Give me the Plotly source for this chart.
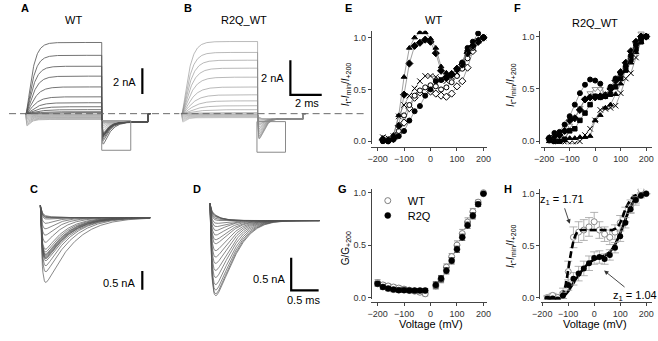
import numpy as np
import plotly.graph_objects as go

W, H = 658, 341
FONT = "Liberation Sans, Arial, Helvetica, sans-serif"

# ======================= data =======================
# current families (A/B), pulses from -200 to +200 mV in 20 mV steps
V_FAM = list(range(-200, 201, 20))
A_STEADY = [-0.45, -0.40, -0.35, -0.30, -0.25, -0.20, -0.15, -0.10, -0.06, -0.03,
            0.08, 0.15, 0.31, 0.54, 0.85, 1.31, 2.08, 2.92, 3.69, 4.54, 5.54]
A_ONSET = [-1.23, -1.10, -0.95, -0.80, -0.65, -0.50, -0.38, -0.27, -0.17, -0.10] + [0.0] * 11
A_TAU = [0.25] * 10 + [0.60, 0.60, 0.55, 0.50, 0.45, 0.42, 0.40, 0.37, 0.34, 0.32, 0.30]
B_STEADY = [-0.23, -0.20, -0.17, -0.14, -0.11, -0.08, -0.06, -0.04, -0.02, -0.01,
            0.06, 0.23, 0.46, 0.74, 1.09, 1.54, 2.11, 2.63, 3.09, 3.54, 4.17]
B_ONSET = [-0.63, -0.55, -0.47, -0.40, -0.33, -0.26, -0.20, -0.14, -0.08, -0.04] + [0.0] * 11
B_TAU = [0.25] * 10 + [0.70, 0.65, 0.60, 0.55, 0.50, 0.47, 0.44, 0.41, 0.38, 0.35, 0.33]
# tail currents (C = WT tails, D = R2Q_WT tails), peak (nA) and decay (ms)
C_PEAK = [-0.26, -0.29, -0.32, -0.34, -0.39, -0.55, -0.74, -0.95, -1.18, -1.39, -1.47,
          -1.53, -1.55, -1.58, -1.61, -1.63, -1.66, -1.71, -1.87, -2.05, -2.37]
C_TAU = [0.20, 0.20, 0.20, 0.22, 0.25, 0.28, 0.30, 0.33, 0.36, 0.40, 0.42,
         0.44, 0.45, 0.46, 0.47, 0.48, 0.48, 0.50, 0.50, 0.52, 0.55]
C_SS = -0.32
D_PEAK = [-0.15, -0.17, -0.18, -0.20, -0.23, -0.26, -0.32, -0.38, -0.45, -0.53, -0.61,
          -0.68, -0.80, -0.91, -1.02, -1.14, -1.26, -1.38, -1.47, -1.53, -1.56]
D_TAU = [0.20, 0.22, 0.24, 0.26, 0.28, 0.30, 0.32, 0.34, 0.36, 0.38, 0.40,
         0.41, 0.42, 0.43, 0.44, 0.45, 0.46, 0.47, 0.48, 0.49, 0.50]
D_SS = -0.26
PULSE_MS = 4.85
TAIL_END_A = 7.8
TAIL_END_B = 7.75
A_TAIL0 = -0.33
B_TAIL0 = -0.05
BASELINE_NA = 0.0

# E / F : normalised tail currents of single cells
V_EF = list(range(-180, 201, 20))
E_TRI = [0.03, 0.02, 0.06, 0.25, 0.62, 0.90, 1.00, 1.05, 1.05, 0.99, 0.90, 0.72, 0.66, 0.66, 0.70, 0.76, 0.88, 0.93, 0.98, 1.00]
E_DIAM = [0.02, 0.01, 0.03, 0.15, 0.45, 0.75, 0.92, 0.95, 0.98, 0.96, 0.85, 0.68, 0.62, 0.64, 0.70, 0.74, 0.85, 0.92, 0.96, 1.00]
E_X = [0.04, 0.03, 0.05, 0.24, 0.35, 0.44, 0.51, 0.58, 0.63, 0.63, 0.62, 0.60, 0.58, 0.62, 0.66, 0.74, 0.85, 0.90, 0.97, 1.00]
E_CIRC = [0.00, 0.00, 0.02, 0.05, 0.10, 0.20, 0.29, 0.34, 0.44, 0.50, 0.58, 0.59, 0.61, 0.65, 0.69, 0.76, 0.90, 0.96, 1.04, 1.00]
E_CIRC_O = [0.02, 0.01, 0.03, 0.10, 0.25, 0.35, 0.44, 0.49, 0.52, 0.54, 0.53, 0.50, 0.52, 0.57, 0.63, 0.70, 0.80, 0.90, 0.97, 1.00]
E_DIAM_O = [0.01, 0.00, 0.02, 0.08, 0.18, 0.32, 0.42, 0.47, 0.48, 0.48, 0.46, 0.44, 0.43, 0.46, 0.53, 0.58, 0.71, 0.87, 0.96, 1.00]

F_CIRC = [0.02, 0.08, 0.09, 0.16, 0.24, 0.35, 0.46, 0.54, 0.59, 0.58, 0.55, 0.43, 0.52, 0.60, 0.65, 0.72, 0.82, 0.92, 0.98, 1.00]
F_DIAM = [0.03, 0.05, 0.06, 0.10, 0.20, 0.22, 0.30, 0.40, 0.42, 0.42, 0.43, 0.44, 0.50, 0.58, 0.66, 0.75, 0.86, 0.95, 1.00, 1.00]
F_TRI_O = [0.00, 0.00, 0.02, 0.06, 0.15, 0.22, 0.32, 0.40, 0.46, 0.50, 0.50, 0.45, 0.50, 0.57, 0.62, 0.70, 0.80, 0.92, 1.03, 1.00]
F_TRI = [0.00, 0.00, 0.00, 0.01, 0.03, 0.03, 0.04, 0.04, 0.05, 0.20, 0.25, 0.32, 0.35, 0.45, 0.55, 0.68, 0.75, 0.85, 0.95, 1.00]
F_X = [0.01, -0.02, 0.00, -0.01, -0.02, -0.02, 0.00, 0.06, 0.12, 0.20, 0.30, 0.31, 0.32, 0.34, 0.46, 0.60, 0.65, 0.80, 0.96, 1.00]
F_SQ = [0.03, 0.00, 0.00, 0.02, 0.10, 0.12, 0.20, 0.27, 0.35, 0.43, 0.42, 0.43, 0.45, 0.52, 0.60, 0.68, 0.78, 0.88, 0.95, 1.00]

# G : normalised conductance
V_G = [-200, -180, -160, -140, -120, -100, -80, -60, -40, -20, 20, 40, 60, 80, 100, 120, 140, 160, 180, 200]
G_WT = [0.14, 0.12, 0.11, 0.10, 0.09, 0.08, 0.07, 0.06, 0.05, 0.035, 0.11, 0.17, 0.29, 0.39, 0.50, 0.61, 0.72, 0.82, 0.91, 1.00]
G_WT_ERR = [0.03, 0.02, 0.02, 0.02, 0.02, 0.02, 0.02, 0.02, 0.02, 0.02, 0.03, 0.03, 0.03, 0.03, 0.04, 0.04, 0.04, 0.03, 0.02, 0.0]
G_R2Q = [0.13, 0.10, 0.085, 0.075, 0.07, 0.07, 0.066, 0.066, 0.066, 0.066, 0.12, 0.18, 0.255, 0.35, 0.46, 0.575, 0.69, 0.78, 0.89, 0.99]
G_R2Q_ERR = [0.02, 0.02, 0.02, 0.02, 0.02, 0.02, 0.02, 0.02, 0.02, 0.02, 0.03, 0.03, 0.03, 0.03, 0.03, 0.03, 0.03, 0.03, 0.02, 0.0]

# H : averaged normalised tail currents and fits
V_H = list(range(-180, 201, 20))
H_WT = [0.00, 0.02, 0.00, 0.04, 0.25, 0.58, 0.63, 0.65, 0.68, 0.73, 0.65, 0.61, 0.58, 0.63, 0.72, 0.80, 0.88, 0.94, 1.04, 1.00]
H_WT_ERR = [0.02, 0.02, 0.03, 0.05, 0.10, 0.10, 0.10, 0.10, 0.09, 0.09, 0.08, 0.07, 0.07, 0.07, 0.07, 0.07, 0.06, 0.05, 0.03, 0.0]
H_R2Q = [-0.01, -0.01, -0.02, 0.02, 0.12, 0.18, 0.23, 0.28, 0.33, 0.38, 0.39, 0.37, 0.41, 0.48, 0.59, 0.72, 0.85, 0.94, 0.98, 1.00]
H_R2Q_ERR = [0.02, 0.02, 0.02, 0.03, 0.05, 0.06, 0.07, 0.07, 0.07, 0.06, 0.06, 0.05, 0.05, 0.05, 0.05, 0.05, 0.04, 0.03, 0.02, 0.0]
V_FIT_WT = list(range(-130, 201, 10))
FIT_WT = [0.01, 0.04, 0.12, 0.27, 0.42, 0.54, 0.61, 0.64, 0.65, 0.65, 0.65, 0.65, 0.65, 0.65, 0.65, 0.65,
          0.65, 0.65, 0.65, 0.65, 0.65, 0.66, 0.68, 0.72, 0.78, 0.85, 0.90, 0.94, 0.97, 0.985, 0.995, 1.0, 1.0, 1.0]
V_FIT_R2Q = list(range(-180, 201, 10))
FIT_R2Q = [-0.01, -0.01, -0.01, -0.01, -0.01, -0.005, 0.01, 0.03, 0.06, 0.10, 0.14, 0.18, 0.21, 0.25, 0.28,
           0.31, 0.33, 0.35, 0.365, 0.375, 0.385, 0.395, 0.405, 0.42, 0.44, 0.47, 0.51, 0.56, 0.62, 0.68,
           0.75, 0.82, 0.87, 0.92, 0.95, 0.97, 0.985, 0.995, 1.0]

# ======================= helpers =======================
def dom_x(p0, p1):
    return [p0 / W, p1 / W]


def dom_y(top, bot):
    return [1 - bot / H, 1 - top / H]


fig = go.Figure()
AX = dict(A='', B='2', C='3', D='4', E='5', F='6', G='7', H='8')


def xa(p):
    return 'x' + AX[p]


def ya(p):
    return 'y' + AX[p]


def line(p, x, y, color, width, dash=None):
    fig.add_trace(go.Scatter(x=x, y=y, mode='lines', xaxis=xa(p), yaxis=ya(p),
                             line=dict(color=color, width=width, dash=dash),
                             showlegend=False, hoverinfo='skip'))


def pulse_wave(t, ss, onset, tau):
    if ss >= 0:
        return ss * (1 - np.exp(-t / tau)) ** 2
    return (1 - np.exp(-t / 0.03)) * (ss + (onset - ss) * np.exp(-t / tau))


def tail_wave(t, peak, ss, tau, p):
    return (1 - np.exp(-t / 0.03)) * (ss + (peak - ss) * np.exp(-(t / tau) ** p))


t_pulse = np.linspace(0, PULSE_MS, 250)

# ---------- A and B families ----------
for p, st, on, ta, pk, tt, ss, t0, tend, pcol, ncol, pw, pexp in [
        ('A', A_STEADY, A_ONSET, A_TAU, C_PEAK, C_TAU, C_SS, A_TAIL0, TAIL_END_A, '#505050', '#a8a8a8', 0.8, 1.2),
        ('B', B_STEADY, B_ONSET, B_TAU, D_PEAK, D_TAU, D_SS, B_TAIL0, TAIL_END_B, '#8a8a8a', '#b0b0b0', 0.6, 1.6)]:
    t_tail = np.linspace(0, tend - PULSE_MS, 160)
    for i in range(21):
        yp = pulse_wave(t_pulse, st[i], on[i], ta[i])
        yt = t0 + tail_wave(t_tail, pk[i], ss, tt[i], pexp)
        x = np.concatenate([t_pulse, PULSE_MS + t_tail, [tend, tend + 0.15]])
        y = np.concatenate([yp, yt, [BASELINE_NA, BASELINE_NA]])
        col = ncol if st[i] < 0 else pcol
        line(p, x, y, col, pw)

# dashed zero-current line across A and B
line('A', [-1.06, 9.8], [BASELINE_NA, BASELINE_NA], '#6a6a6a', 1.0, '7px,4px')
line('B', [-0.06, 11.8], [BASELINE_NA, BASELINE_NA], '#6a6a6a', 1.0, '7px,4px')

# ---------- C and D tails ----------
t_c = np.linspace(0, 2.0, 220)
for i in range(21):
    line('C', t_c, tail_wave(t_c, C_PEAK[i], C_SS, C_TAU[i], 1.2), '#555555', 0.7)
    line('D', t_c, tail_wave(t_c, D_PEAK[i], D_SS, D_TAU[i], 1.6), '#555555', 0.7)

# scale bars
line('A', [7.44, 7.44], [1.54, 3.54], 'black', 2.2)
line('B', [6.94, 6.94, 8.94], [3.09, 1.09, 1.09], 'black', 2.2)
line('C', [1.857, 1.857], [-1.74, -2.24], 'black', 2.2)
line('D', [1.48, 1.48, 1.98], [-0.83, -1.33, -1.33], 'black', 2.2)

# ---------- E and F ----------
def ef_trace(p, ys, symbol, fill, lcol='black', size=5):
    fig.add_trace(go.Scatter(x=V_EF, y=ys, mode='lines+markers', xaxis=xa(p), yaxis=ya(p),
                             line=dict(color='#606060', width=0.6),
                             marker=dict(symbol=symbol, size=size, color=fill,
                                         line=dict(color=lcol, width=1.0)),
                             showlegend=False, hoverinfo='skip'))


ef_trace('E', E_DIAM_O, 'diamond', 'white', size=5.5)
ef_trace('E', E_CIRC_O, 'circle', 'white')
ef_trace('E', E_X, 'x-thin', 'black', size=5.5)
ef_trace('E', E_CIRC, 'circle', 'black')
ef_trace('E', E_DIAM, 'diamond', 'black', size=5.5)
ef_trace('E', E_TRI, 'triangle-up', 'black')

ef_trace('F', F_TRI_O, 'triangle-down', 'white', lcol='#909090', size=5.5)
ef_trace('F', F_X, 'x-thin', 'black', size=5.5)
ef_trace('F', F_TRI, 'triangle-up', 'black')
ef_trace('F', F_SQ, 'square', 'black', size=4.5)
ef_trace('F', F_DIAM, 'diamond', 'black', size=5.5)
ef_trace('F', F_CIRC, 'circle', 'black')

# ---------- G ----------
fig.add_trace(go.Scatter(x=V_G, y=G_WT, mode='markers', xaxis=xa('G'), yaxis=ya('G'), name='WT',
                         marker=dict(symbol='circle', size=6, color='white', line=dict(color='#808080', width=1)),
                         error_y=dict(type='data', array=G_WT_ERR, color='#808080', thickness=0.8, width=3),
                         showlegend=True, legend='legend', hoverinfo='skip'))
fig.add_trace(go.Scatter(x=V_G, y=G_R2Q, mode='markers', xaxis=xa('G'), yaxis=ya('G'), name='R2Q',
                         marker=dict(symbol='circle', size=6, color='black', line=dict(color='black', width=0.5)),
                         error_y=dict(type='data', array=G_R2Q_ERR, color='#333333', thickness=0.8, width=3),
                         showlegend=True, legend='legend2', hoverinfo='skip'))

# ---------- H ----------
fig.add_trace(go.Scatter(x=V_H, y=H_WT, mode='markers', xaxis=xa('H'), yaxis=ya('H'),
                         marker=dict(symbol='circle', size=6, color='white', line=dict(color='#8a8a8a', width=1)),
                         error_y=dict(type='data', array=H_WT_ERR, color='#a0a0a0', thickness=0.8, width=4),
                         showlegend=False, hoverinfo='skip'))
fig.add_trace(go.Scatter(x=V_FIT_WT, y=FIT_WT, mode='lines', xaxis=xa('H'), yaxis=ya('H'),
                         line=dict(color='black', width=2.6, dash='7px,3px', shape='spline'),
                         showlegend=False, hoverinfo='skip'))
fig.add_trace(go.Scatter(x=V_FIT_R2Q, y=FIT_R2Q, mode='lines', xaxis=xa('H'), yaxis=ya('H'),
                         line=dict(color='black', width=2.6, shape='spline'),
                         showlegend=False, hoverinfo='skip'))
fig.add_trace(go.Scatter(x=V_H, y=H_R2Q, mode='markers', xaxis=xa('H'), yaxis=ya('H'),
                         marker=dict(symbol='circle', size=6, color='black'),
                         error_y=dict(type='data', array=H_R2Q_ERR, color='#a0a0a0', thickness=0.8, width=4),
                         showlegend=False, hoverinfo='skip'))

# ======================= axes =======================
layout_axes = {}
hidden = dict(visible=False, showgrid=False, zeroline=False, fixedrange=True)
# A: t=(px-17)/16, I=(114-py)/13
layout_axes['xaxis'] = dict(domain=dom_x(0, 175), range=[(0 - 17) / 16, (175 - 17) / 16], anchor='y', **hidden)
layout_axes['yaxis'] = dict(domain=dom_y(25, 160), range=[(114 - 160) / 13, (114 - 25) / 13], anchor='x', **hidden)
# B: t=(px-176)/16, I=(114-py)/17.5
layout_axes['xaxis2'] = dict(domain=dom_x(175, 370), range=[(175 - 176) / 16, (370 - 176) / 16], anchor='y2', **hidden)
layout_axes['yaxis2'] = dict(domain=dom_y(25, 160), range=[(114 - 160) / 17.5, (114 - 25) / 17.5], anchor='x2', **hidden)
# C: t=(px-32)/56, I=(207-py)/38
layout_axes['xaxis3'] = dict(domain=dom_x(25, 150), range=[(25 - 32) / 56, (150 - 32) / 56], anchor='y3', **hidden)
layout_axes['yaxis3'] = dict(domain=dom_y(195, 312), range=[(207 - 312) / 38, (207 - 195) / 38], anchor='x3', **hidden)
# D: t=(px-205)/56, I=(205-py)/66
layout_axes['xaxis4'] = dict(domain=dom_x(198, 330), range=[(198 - 205) / 56, (330 - 205) / 56], anchor='y4', **hidden)
layout_axes['yaxis4'] = dict(domain=dom_y(195, 315), range=[(205 - 315) / 66, (205 - 195) / 66], anchor='x4', **hidden)

tick_common = dict(showline=True, linecolor='#444444', linewidth=1, ticks='outside', ticklen=3,
                   tickwidth=1, tickcolor='#444444', showgrid=False, zeroline=False,
                   tickfont=dict(size=9, color='#333333', family=FONT), fixedrange=True)
xt = dict(tickvals=[-200, -100, 0, 100, 200], **tick_common)
yt = dict(tickvals=[0, 0.5, 1.0], tickformat='.1f', **tick_common)
# E: px=430+0.27 V ; py=142-105 v
layout_axes['xaxis5'] = dict(domain=dom_x(369, 488), range=[(369 - 430) / 0.27, (488 - 430) / 0.27],
                             anchor='free', position=1 - 148 / H, **xt)
layout_axes['yaxis5'] = dict(domain=dom_y(30, 145), range=[(142 - 145) / 105, (142 - 30) / 105],
                             anchor='free', position=369 / W, **yt)
# F: px=598+0.26 V ; py=142-106 v
layout_axes['xaxis6'] = dict(domain=dom_x(543, 656), range=[(543 - 598) / 0.26, (656 - 598) / 0.26],
                             anchor='free', position=1 - 148 / H, **xt)
layout_axes['yaxis6'] = dict(domain=dom_y(30, 145), range=[(142 - 145) / 106, (142 - 30) / 106],
                             anchor='free', position=541 / W, **yt)
# G: px=430+0.27 V ; py=300-106 v
layout_axes['xaxis7'] = dict(domain=dom_x(369, 488), range=[(369 - 430) / 0.27, (488 - 430) / 0.27],
                             anchor='free', position=1 - 305 / H, **xt)
layout_axes['yaxis7'] = dict(domain=dom_y(190, 302), range=[(300 - 302) / 106, (300 - 190) / 106],
                             anchor='free', position=369 / W, **yt)
# H: px=597+0.265 V ; py=300-105 v
layout_axes['xaxis8'] = dict(domain=dom_x(543, 656), range=[(543 - 597) / 0.265, (656 - 597) / 0.265],
                             anchor='free', position=1 - 305 / H, **xt)
layout_axes['yaxis8'] = dict(domain=dom_y(190, 302), range=[(300 - 302) / 105, (300 - 190) / 105],
                             anchor='free', position=541 / W, **yt)

# ======================= annotations =======================
ann = []


def paper_text(text, px, py, size=11, bold=False, xanchor='center', angle=0):
    if bold:
        text = '<b>' + text + '</b>'
    ann.append(dict(text=text, x=px / W, y=1 - py / H, xref='paper', yref='paper', showarrow=False,
                    xanchor=xanchor, yanchor='middle', textangle=angle,
                    font=dict(size=size, color='black', family=FONT)))


def data_text(p, text, x, y, size=11, xanchor='center'):
    ann.append(dict(text=text, x=x, y=y, xref=xa(p), yref=ya(p), showarrow=False,
                    xanchor=xanchor, yanchor='middle', font=dict(size=size, color='black', family=FONT)))


for letter, px, py in [('A', 16, 7), ('B', 183, 7), ('E', 346, 7), ('F', 519, 7),
                       ('C', 25, 190), ('D', 192, 190), ('G', 340, 190), ('H', 509, 190)]:
    paper_text(letter, px, py, size=11, bold=True)

paper_text('WT', 66, 19, size=11)
paper_text('R2Q_WT', 240, 19, size=11)
paper_text('WT', 433, 19, size=11)
paper_text('R2Q_WT', 598, 22, size=11)
paper_text('Voltage (mV)', 430, 327, size=11)
paper_text('Voltage (mV)', 598, 327, size=11)

ylab = '<i>I</i><sub>t</sub>-<i>I</i><sub>min</sub>/<i>I</i><sub>+200</sub>'
paper_text(ylab, 344, 84, size=10, angle=-90)
paper_text(ylab, 512, 85, size=10, angle=-90)
paper_text(ylab, 512, 248, size=10, angle=-90)
paper_text('G/G<sub>+200</sub>', 344, 250, size=10, angle=-90)

data_text('A', '2 nA', 7.15, 2.46, xanchor='right')
data_text('B', '2 nA', 6.69, 2.06, xanchor='right')
data_text('B', '2 ms', 8.03, 0.63)
data_text('C', '0.5 nA', 1.76, -2.05, xanchor='right')
data_text('D', '0.5 nA', 1.40, -1.15, xanchor='right')
data_text('D', '0.5 ms', 1.71, -1.48)

# H labels with arrows (arrow tip at the curve, text offset in pixels)
for (txt, x, y, axo, ayo) in [('z<sub>1</sub> = 1.71', -94, 0.71, -8, -24),
                              ('z<sub>1</sub> = 1.04', 38, 0.26, 31, 25)]:
    ann.append(dict(text=txt, x=x, y=y, xref=xa('H'), yref=ya('H'), ax=axo, ay=ayo,
                    showarrow=True, arrowhead=2, arrowsize=1, arrowwidth=0.9, arrowcolor='#333333',
                    standoff=0, font=dict(size=11, color='black', family=FONT)))

# zoom boxes in A and B
shapes = [
    dict(type='rect', xref='x', yref='y', x0=PULSE_MS, x1=6.7, y0=-2.85, y1=-0.55,
         line=dict(color='#8a8a8a', width=1)),
    dict(type='rect', xref='x2', yref='y2', x0=4.81, x1=6.63, y0=-2.23, y1=-0.46,
         line=dict(color='#8a8a8a', width=1)),
]

leg_common = dict(xanchor='left', yanchor='middle', bgcolor='rgba(0,0,0,0)',
                  font=dict(size=11, family=FONT), itemwidth=30, tracegroupgap=0)
fig.update_layout(
    width=W, height=H, margin=dict(l=0, r=0, t=0, b=0),
    paper_bgcolor='white', plot_bgcolor='white',
    font=dict(family=FONT, size=11, color='black'),
    annotations=ann, shapes=shapes,
    legend=dict(x=366 / W, y=1 - 202 / H, **leg_common),
    legend2=dict(x=366 / W, y=1 - 217 / H, **leg_common),
    **layout_axes,
)

fig.write_html("out.html")
